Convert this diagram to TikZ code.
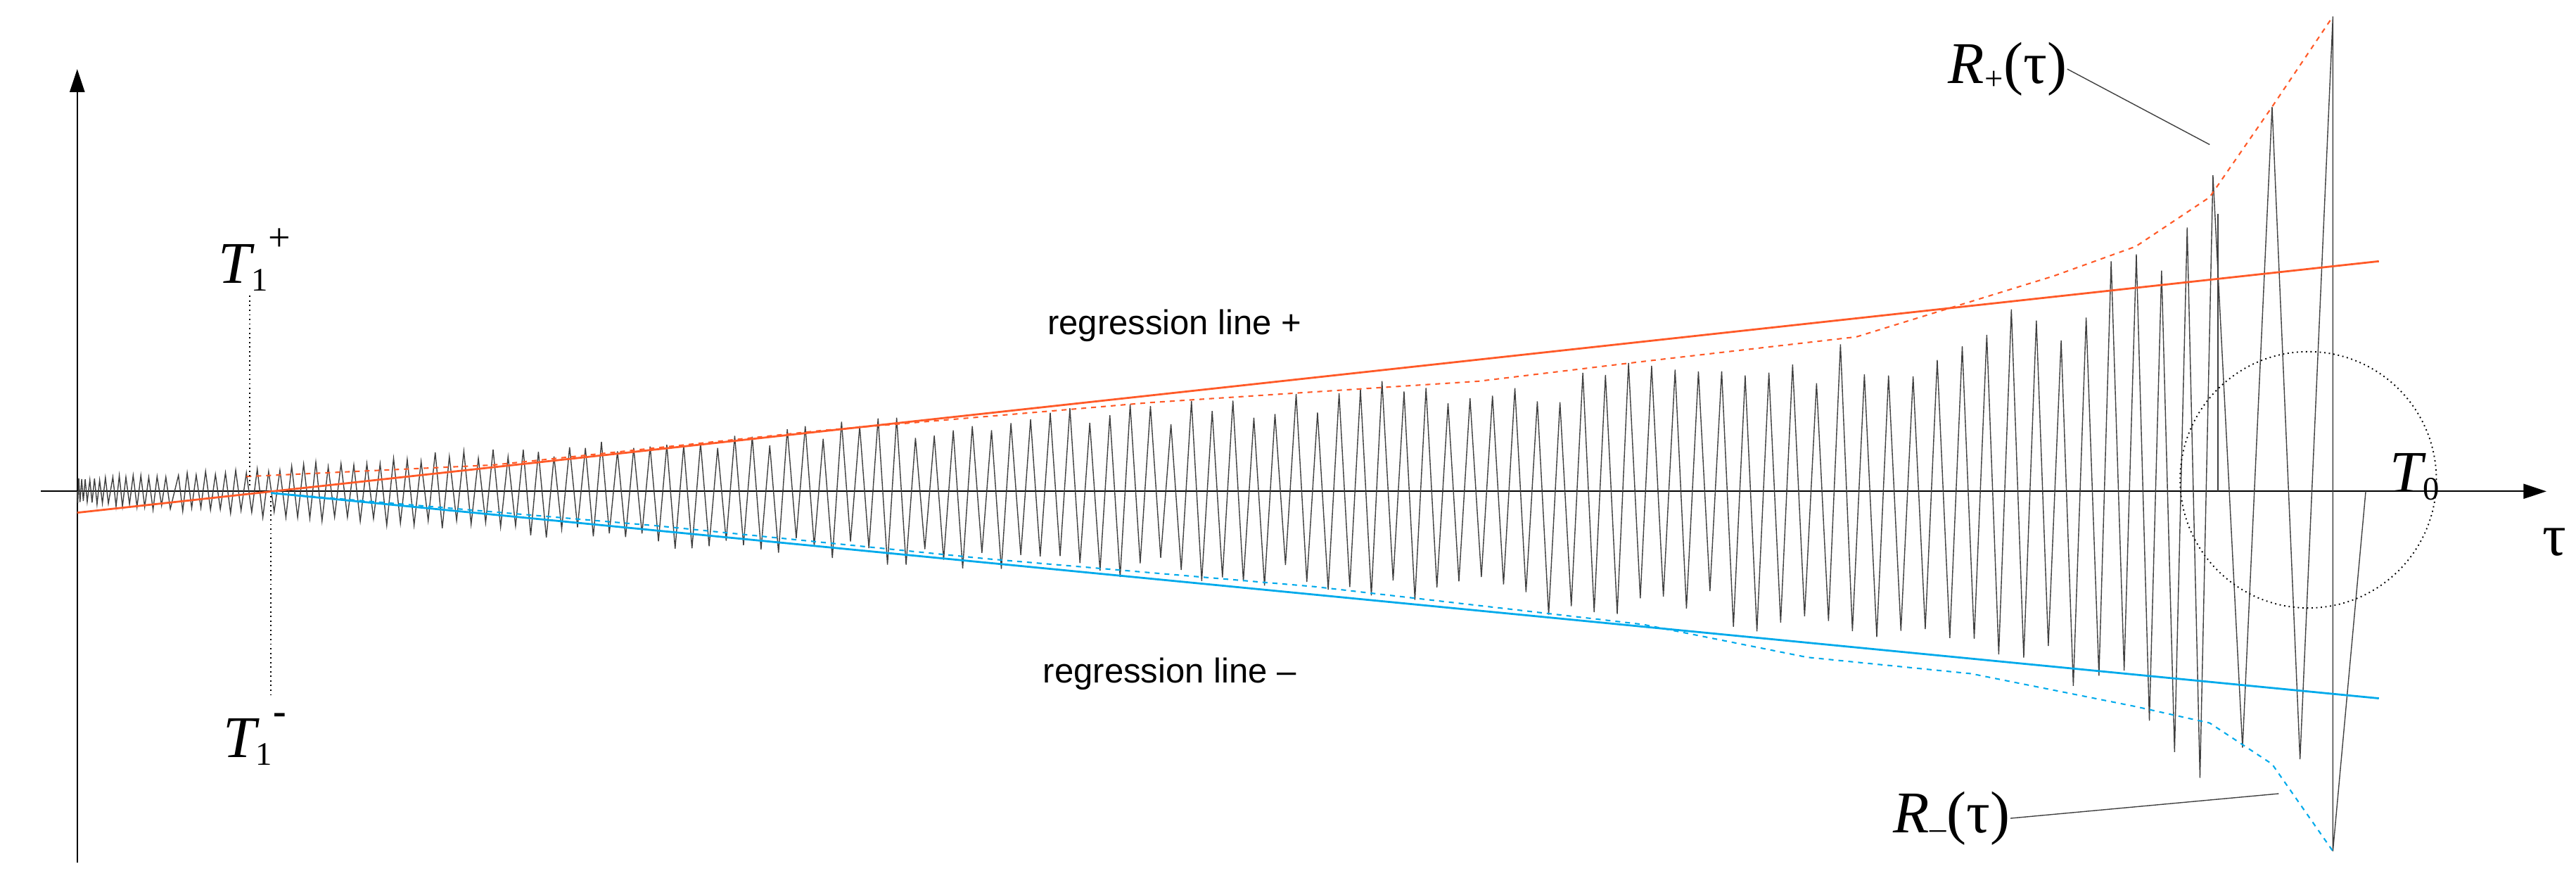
\documentclass[tikz,border=0pt]{standalone}
\usepackage{fontspec}
\setmainfont{Liberation Sans}
\newfontfamily\serifit{Liberation Serif}
\usetikzlibrary{arrows.meta}
\definecolor{orng}{RGB}{255,90,40}
\definecolor{blu}{RGB}{0,170,235}
\begin{document}
\begin{tikzpicture}[x=1pt,y=-1pt,
  ax/.style={line width=1pt,-{Triangle[length=14pt,width=9pt]}},
  zig/.style={line width=0.6pt,black!75},
  lbl/.style={font=\fontsize{36}{36}\selectfont\serifit\itshape,inner sep=0pt},
  reg/.style={font=\fontsize{21}{21}\selectfont,inner sep=0pt},
  lead/.style={line width=0.6pt,black!75}]
\useasboundingbox (0,0) rectangle (1568,537);
\coordinate (ys) at (47,525); \coordinate (ye) at (47,42);
\coordinate (xs) at (25,299); \coordinate (xe) at (1550,299);
\draw[ax] (ys) -- (ye);
\draw[ax] (xs) -- (xe);
\node[lbl,font=\fontsize{36}{36}\selectfont\serifit] (tau) at (1555,330) {τ};
% zigzag
\pgfmathsetseed{11}
\draw[zig] (47,299) \foreach \i [evaluate=\i as \x using {47+1300*(\i/250)^1.5},
  evaluate=\i as \y using {299+(2*mod(\i,2)-1)*(8+0.075*(1300*(\i/250)^1.5)+60*exp((47+1300*(\i/250)^1.5-1300)/60))*(0.7+0.3*rnd)}]
  in {1,...,250}{ -- (\x,\y) }
  -- (1365,455) -- (1383,65) -- (1400,462) -- (1420,10) -- (1420,518) -- (1440,299);
\draw[zig] (1350,130) -- (1350,299);
% regression lines
\coordinate (rp1) at (47,312); \coordinate (rp2) at (1448,159);
\coordinate (rm1) at (165,300); \coordinate (rm2) at (1448,425);
\draw[orng,line width=1.2pt] (rp1) -- (rp2);
\draw[blu,line width=1.2pt] (rm1) -- (rm2);
% envelopes
\draw[orng,dashed,line width=0.9pt] (150,290) -- (300,283) -- (500,262) -- (700,245) -- (900,232) -- (1000,220) -- (1130,205) -- (1250,168) -- (1300,150) -- (1345,120) -- (1383,65) -- (1420,10);
\draw[blu,dashed,line width=0.9pt] (165,300) -- (400,320) -- (600,340) -- (800,357) -- (1000,380) -- (1100,400) -- (1200,410) -- (1250,420) -- (1300,430) -- (1345,440) -- (1383,465) -- (1420,518);
% T1 markers
\coordinate (d1a) at (152,180); \coordinate (d1b) at (152,296);
\coordinate (d2a) at (165,302); \coordinate (d2b) at (165,425);
\draw[dotted,line width=0.8pt] (d1a) -- (d1b);
\draw[dotted,line width=0.8pt] (d2a) -- (d2b);
\node[lbl] (t1p) at (155,158) {T\textsubscript{\fontsize{20}{20}\selectfont\upshape 1}\raisebox{20pt}{\fontsize{24}{24}\selectfont\upshape +}};
\node[lbl] (t1m) at (155,450) {T\textsubscript{\fontsize{20}{20}\selectfont\upshape 1}\raisebox{20pt}{\fontsize{24}{24}\selectfont\upshape\bfseries -}};
% circle T0
\node[draw,dotted,circle,minimum size=156pt,line width=0.8pt] (circ) at (1405,292) {};
\node[lbl] (t0) at (1470,290) {T\textsubscript{\fontsize{20}{20}\selectfont\upshape 0}};
% R labels
\node[lbl] (rp) at (1222,42) {R\textsubscript{\fontsize{20}{20}\selectfont\upshape +}\upshape(τ)};
\node[lbl] (rm) at (1188,498) {R\textsubscript{\fontsize{20}{20}\selectfont\upshape –}\upshape(τ)};
\coordinate (rpe) at (1345,88); \coordinate (rme) at (1387,483);
\draw[lead] (rp.east) -- (rpe);
\draw[lead] (rm.east) -- (rme);
\node[reg] (rl1) at (715,198) {regression line +};
\node[reg] (rl2) at (712,410) {regression line –};
\end{tikzpicture}
\end{document}
